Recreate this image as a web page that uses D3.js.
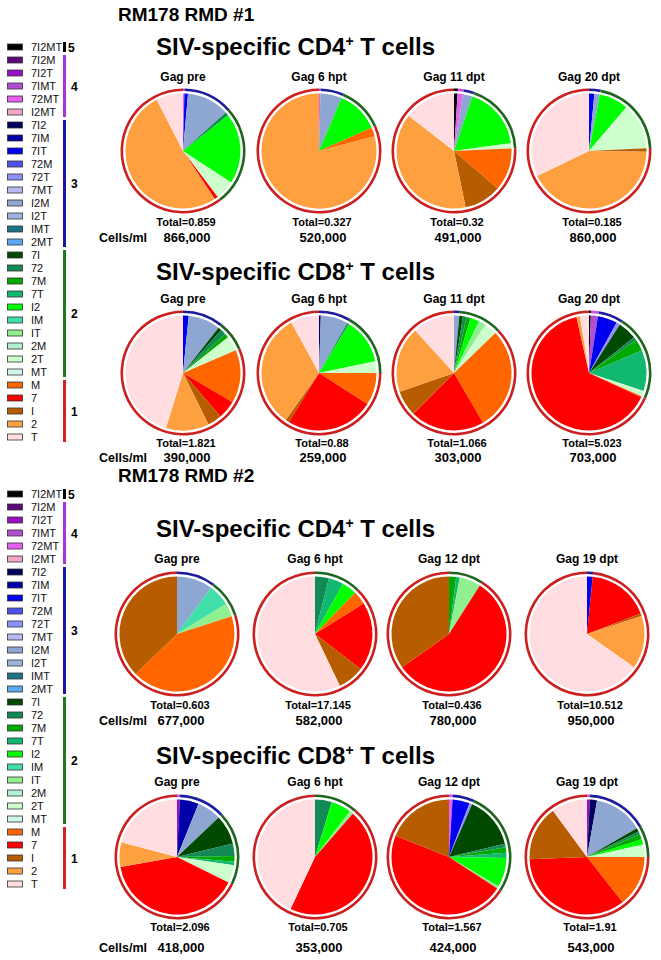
<!DOCTYPE html>
<html>
<head>
<meta charset="utf-8">
<script src="https://cdn.jsdelivr.net/npm/d3@7"></script>
<style>
  body { margin: 0; background: #fff; }
  svg { font-family: "Liberation Sans", Arial, sans-serif; }
</style>
</head>
<body>
<div id="chart"></div>
<script>
// Categories (legend order = clockwise slice order from 12 o'clock)
const categories = ["7I2MT","7I2M","7I2T","7IMT","72MT","I2MT",
  "7I2","7IM","7IT","72M","72T","7MT","I2M","I2T","IMT","2MT",
  "7I","72","7M","7T","I2","IM","IT","2M","2T","MT",
  "M","7","I","2","T"];
const categoryGroups = [5,4,4,4,4,4,3,3,3,3,3,3,3,3,3,3,2,2,2,2,2,2,2,2,2,2,1,1,1,1,1];
const categoryColors = ["#000000","#5c0a7a","#9a10c8","#b050d0","#e860f0","#f4a6c8",
  "#00005e","#0000a8","#0000f0","#5050f0","#9090ff","#b8b8f0","#8ea6d2","#9cb3dc","#1a7585","#5aaaf0",
  "#004a00","#138a55","#00aa00","#10b870","#00ff00","#40e0a8","#90f090","#b0f0d0","#ccffcc","#d0f5ec",
  "#ff6600","#ff0000","#b85c00","#ffa040","#ffdde0"];
const groupNames = [5,4,3,2,1];
const groupColors = {5:"#000000", 4:"#a834d8", 3:"#1a1a9e", 2:"#1f7a1f", 1:"#d42222"};
const ringColors = {5:"#000000", 4:"#d050e8", 3:"#1c1c9c", 2:"#1e661e", 1:"#cc1f1f"};

// RM178 RMD #1
const rmd1Titles = ["Gag pre","Gag 6 hpt","Gag 11 dpt","Gag 20 dpt"];
const rmd1Cd4Totals = ["0.859","0.327","0.32","0.185"];
const rmd1Cd4Cells = ["866,000","520,000","491,000","860,000"];
const rmd1Cd8Totals = ["1.821","0.88","1.066","5.023"];
const rmd1Cd8Cells = ["390,000","259,000","303,000","703,000"];

const r1Cd4Pre = [["72MT",0.4],["7IT",1],["I2M",12],["72",1],["I2",20],["2T",5.5],["7",1],["2",52],["T",7.6]];
const r1Cd4H6 = [["72MT",0.4],["I2M",6],["I2",12],["M",2.5],["2",79.1]];
const r1Cd4D11 = [["7I2MT",1],["72MT",1.5],["I2M",2.7],["I2",17.6],["2T",1.5],["M",12],["I",10.5],["2",38.8],["T",14.5]];
const r1Cd4D20 = [["7IT",1.5],["I2M",1.5],["I2",8.2],["2T",13],["I",1],["2",42.6],["T",32.1]];
const r1Cd8Pre = [["7IT",1.6],["I2M",9],["7I",1],["72",1.5],["7M",1.2],["2T",4.2],["M",15],["7",5.2],["I",4],["2",12.1],["T",45.2]];
const r1Cd8H6 = [["7I2",0.5],["I2M",7.7],["72",0.5],["I2",13],["2T",3.3],["M",9.1],["7",24.7],["I",1],["2",32.2],["T",8]];
const r1Cd8D11 = [["I2M",1.5],["7I",1],["72",1],["7M",1.2],["I2",2.5],["IT",2],["2T",3.6],["M",28.8],["7",20.9],["I",7.2],["2",18.5],["T",11.8]];
const r1Cd8D20 = [["7I2MT",0.5],["7IMT",2],["7IT",5.5],["72T",1],["7I",5.3],["72",1],["7M",3.3],["7T",11.5],["2T",1.5],["M",0.3],["7",64.6],["2",1],["T",2.5]];

// RM178 RMD #2
const rmd2Titles = ["Gag pre","Gag 6 hpt","Gag 12 dpt","Gag 19 dpt"];
const rmd2Cd4Totals = ["0.603","17.145","0.436","10.512"];
const rmd2Cd4Cells = ["677,000","582,000","780,000","950,000"];
const rmd2Cd8Totals = ["2.096","0.705","1.567","1.91"];
const rmd2Cd8Cells = ["418,000","353,000","424,000","543,000"];

const r2Cd4Pre = [["I2M",10.1],["IM",6.2],["IT",3.7],["M",42.8],["I",37.2]];
const r2Cd4H6 = [["72",3.9],["7T",4.2],["I2",4.2],["M",3.8],["7",19.3],["I",7.5],["T",57.1]];
const r2Cd4D12 = [["7M",2],["7T",1],["IT",6],["7",56.2],["I",34.8]];
const r2Cd4D19 = [["7IT",1.6],["7",17.6],["I",0.7],["2",14.9],["T",65.2]];
const r2Cd8Pre = [["7I2T",0.8],["7IM",5.3],["I2M",6.8],["7I",8.3],["72",3.5],["7M",1.6],["7T",1],["2T",5],["7",39.9],["2",6.9],["T",20.9]];
const r2Cd8H6 = [["72",4.7],["I2",5.7],["IT",1],["7",45.6],["T",43]];
const r2Cd8D12 = [["72MT",1],["7IT",4.8],["72T",0.8],["7I",14.7],["72",1],["7M",1.5],["7T",1.5],["I2",8.2],["IT",0.7],["7",46.8],["I",19]];
const r2Cd8D19 = [["7I2T",0.8],["7I2",2],["I2M",13.9],["7I",1],["72",0.8],["7M",1.5],["I2",1.5],["2T",3.5],["M",14.4],["7",35],["I",15.5],["T",10.1]];

// Layout
const W = 661, H = 960;
const colsTop = [183, 319, 454, 589];
const colsBottom = [177, 315, 449, 587];
const pieR = 57.5, ringR = 61.2, ringW = 2.6;

const rows = [
  {cell: "CD4", headY: 55, gagY: 81, cy: 151, totalY: 226, cellsY: 242, cols: colsTop,
   titles: rmd1Titles, totals: rmd1Cd4Totals, cells: rmd1Cd4Cells, pies: [r1Cd4Pre, r1Cd4H6, r1Cd4D11, r1Cd4D20]},
  {cell: "CD8", headY: 280, gagY: 303, cy: 373, totalY: 447, cellsY: 462, cols: colsTop,
   titles: rmd1Titles, totals: rmd1Cd8Totals, cells: rmd1Cd8Cells, pies: [r1Cd8Pre, r1Cd8H6, r1Cd8D11, r1Cd8D20]},
  {cell: "CD4", headY: 537, gagY: 563, cy: 634, totalY: 709, cellsY: 725, cols: colsBottom,
   titles: rmd2Titles, totals: rmd2Cd4Totals, cells: rmd2Cd4Cells, pies: [r2Cd4Pre, r2Cd4H6, r2Cd4D12, r2Cd4D19]},
  {cell: "CD8", headY: 764, gagY: 786, cy: 857, totalY: 931, cellsY: 952, cols: colsBottom,
   titles: rmd2Titles, totals: rmd2Cd8Totals, cells: rmd2Cd8Cells, pies: [r2Cd8Pre, r2Cd8H6, r2Cd8D12, r2Cd8D19]}
];

const svg = d3.select("#chart").append("svg")
  .attr("width", W).attr("height", H);

// Section headers
svg.append("text").attr("x", 118).attr("y", 21)
  .attr("font-size", 19).attr("font-weight", "bold").text("RM178 RMD #1");
svg.append("text").attr("x", 118).attr("y", 482)
  .attr("font-size", 19).attr("font-weight", "bold").text("RM178 RMD #2");

// Legends
const legendStep = 13;
const yLeg = d3.scaleLinear().domain([0, 1]).range([0, legendStep]);

function drawLegend(y0) {
  const g = svg.append("g").attr("transform", `translate(0,${y0})`);
  const items = g.selectAll("g.item").data(categories).join("g")
    .attr("class", "item")
    .attr("transform", (d, i) => `translate(0,${yLeg(i)})`);
  items.append("rect")
    .attr("x", 7.5).attr("y", -3).attr("width", 15).attr("height", 6)
    .attr("fill", (d, i) => categoryColors[i])
    .attr("stroke", "#333").attr("stroke-width", 0.8);
  items.append("text")
    .attr("x", 31).attr("y", 4)
    .attr("font-size", 11).attr("fill", "#111")
    .text(d => d);

  groupNames.forEach(gr => {
    const idx = categoryGroups.map((c, i) => c === gr ? i : -1).filter(i => i >= 0);
    const y1 = yLeg(d3.min(idx)) - 5, y2 = yLeg(d3.max(idx)) + 5;
    g.append("rect").attr("x", 63).attr("y", y1).attr("width", 3).attr("height", y2 - y1)
      .attr("fill", groupColors[gr]);
    g.append("text")
      .attr("x", gr === 5 ? 68 : 71).attr("y", (y1 + y2) / 2 + 4.5)
      .attr("font-size", 12).attr("font-weight", "bold").text(gr);
  });
}
drawLegend(47);
drawLegend(494);

// Pies
const pie = d3.pie().sort(null).value(d => d.value);
const arc = d3.arc().innerRadius(0).outerRadius(pieR);
const ringArc = d3.arc().innerRadius(ringR - ringW / 2).outerRadius(ringR + ringW / 2);

function toFull(pairs) {
  const m = new Map(pairs);
  return categories.map((c, i) => ({cat: c, value: m.get(c) || 0, color: categoryColors[i], group: categoryGroups[i]}));
}

rows.forEach(row => {
  const t = svg.append("text").attr("x", 156).attr("y", row.headY)
    .attr("font-size", 24).attr("font-weight", "bold");
  t.append("tspan").text(`SIV-specific ${row.cell}`);
  t.append("tspan").attr("dy", -9).attr("font-size", 14).text("+");
  t.append("tspan").attr("dy", 9).text(" T cells");

  svg.append("text").attr("x", 147).attr("y", row.cellsY)
    .attr("text-anchor", "end").attr("font-size", 12.5).attr("font-weight", "bold")
    .text("Cells/ml");

  row.pies.forEach((pairs, k) => {
    const cx = row.cols[k];
    const arcs = pie(toFull(pairs)).filter(a => a.data.value > 0);
    const g = svg.append("g").attr("transform", `translate(${cx},${row.cy})`);

    g.selectAll("path.slice").data(arcs).join("path")
      .attr("class", "slice")
      .attr("d", arc)
      .attr("fill", d => d.data.color);

    const spans = d3.rollups(arcs, v => ({
      startAngle: d3.min(v, a => a.startAngle),
      endAngle: d3.max(v, a => a.endAngle)
    }), a => a.data.group);
    g.selectAll("path.ring").data(spans).join("path")
      .attr("class", "ring")
      .attr("d", d => ringArc(d[1]))
      .attr("fill", d => ringColors[d[0]]);

    svg.append("text").attr("x", cx).attr("y", row.gagY)
      .attr("text-anchor", "middle").attr("font-size", 12).attr("font-weight", "bold")
      .text(row.titles[k]);
    svg.append("text").attr("x", cx + 3).attr("y", row.totalY)
      .attr("text-anchor", "middle").attr("font-size", 11).attr("font-weight", "bold")
      .text(`Total=${row.totals[k]}`);
    svg.append("text").attr("x", cx + 4).attr("y", row.cellsY)
      .attr("text-anchor", "middle").attr("font-size", 13).attr("font-weight", "bold")
      .text(row.cells[k]);
  });
});
</script>
</body>
</html>
